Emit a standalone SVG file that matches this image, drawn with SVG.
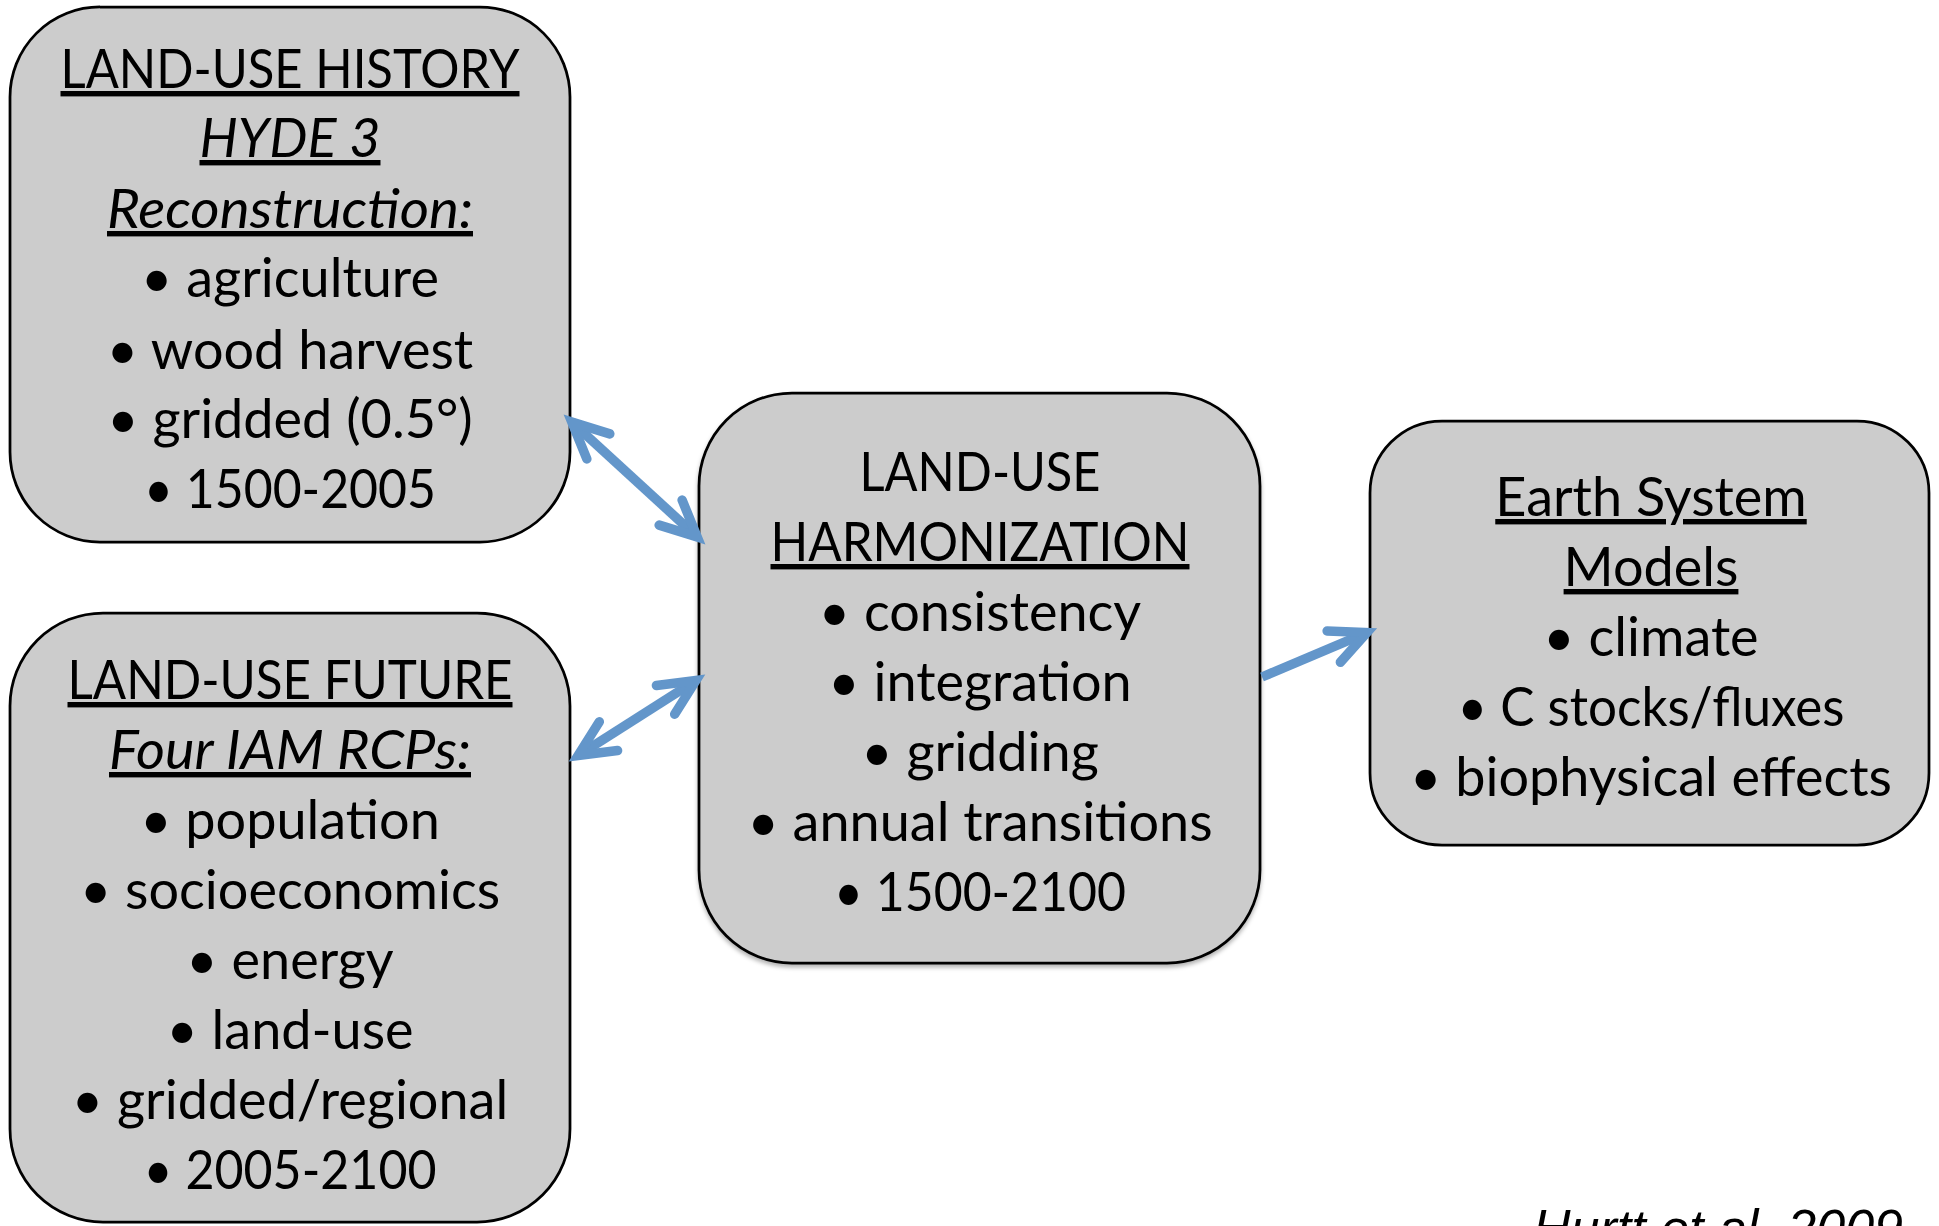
<svg xmlns="http://www.w3.org/2000/svg" width="1939" height="1226" viewBox="0 0 1939 1226">
<style>
.box{fill:#cccccc;stroke:#000;stroke-width:2.75}
text{font-family:Lato,"Liberation Sans",sans-serif;font-size:54px;fill:#000;text-anchor:middle}
.u{text-decoration:underline}
.i{font-style:italic}
.conn{stroke:#6396ca;stroke-width:9.5;fill:none}
.ref{font-family:"Liberation Sans",Arial,sans-serif;font-style:italic;font-size:52px;text-anchor:start}
</style>
<defs>
<marker id="ah" markerUnits="userSpaceOnUse" viewBox="-60 -30 70 60" markerWidth="70" markerHeight="60" refX="0" refY="0" orient="auto-start-reverse" overflow="visible">
<path d="M-36,-17 L0,0 L-36,17" fill="none" stroke="#6396ca" stroke-width="9.5" stroke-linecap="round" stroke-linejoin="miter"/>
</marker>
<filter id="sh" x="-5%" y="-5%" width="110%" height="112%">
<feGaussianBlur in="SourceAlpha" stdDeviation="2"/>
<feOffset dy="3" result="b"/>
<feFlood flood-color="#000" flood-opacity="0.3"/>
<feComposite in2="b" operator="in"/>
<feMerge><feMergeNode/><feMergeNode in="SourceGraphic"/></feMerge>
</filter>
</defs>

<g id="history">
<rect class="box" x="10" y="7" width="560" height="535" rx="90" ry="90"/>
<text x="290" y="88" class="u" textLength="459" lengthAdjust="spacingAndGlyphs">LAND-USE HISTORY</text>
<text x="290" y="157" class="u i">HYDE 3</text>
<text x="290" y="228" class="u i" textLength="366" lengthAdjust="spacingAndGlyphs">Reconstruction:</text>
<text x="290" y="297">• agriculture</text>
<text x="290" y="369">• wood harvest</text>
<text x="290" y="438">• gridded (0.5°)</text>
<text x="290" y="508" textLength="292" lengthAdjust="spacingAndGlyphs">• 1500-2005</text>
</g>

<g id="future">
<rect class="box" x="10" y="613" width="560" height="609" rx="93" ry="93"/>
<text x="290" y="699" class="u" textLength="445" lengthAdjust="spacingAndGlyphs">LAND-USE FUTURE</text>
<text x="290" y="769" class="u i" textLength="362" lengthAdjust="spacingAndGlyphs">Four IAM RCPs:</text>
<text x="290" y="839">• population</text>
<text x="290" y="909">• socioeconomics</text>
<text x="290" y="979">• energy</text>
<text x="290" y="1049">• land-use</text>
<text x="290" y="1119">• gridded/regional</text>
<text x="290" y="1189" textLength="293" lengthAdjust="spacingAndGlyphs">• 2005-2100</text>
</g>

<g id="harmonization">
<rect class="box" x="699" y="393" width="561" height="570" rx="93" ry="93" filter="url(#sh)"/>
<text x="980" y="491" textLength="241" lengthAdjust="spacingAndGlyphs">LAND-USE</text>
<text x="980" y="561" class="u" textLength="419" lengthAdjust="spacingAndGlyphs">HARMONIZATION</text>
<text x="980" y="631">• consistency</text>
<text x="980" y="701">• integration</text>
<text x="980" y="771">• gridding</text>
<text x="980" y="841">• annual transitions</text>
<text x="980" y="911" textLength="292" lengthAdjust="spacingAndGlyphs">• 1500-2100</text>
</g>

<g id="esm">
<rect class="box" x="1370" y="421" width="559" height="424" rx="72" ry="72"/>
<text x="1651" y="516" class="u">Earth System</text>
<text x="1651" y="586" class="u">Models</text>
<text x="1651" y="656">• climate</text>
<text x="1651" y="726" textLength="387" lengthAdjust="spacingAndGlyphs">• C stocks/fluxes</text>
<text x="1651" y="796">• biophysical effects</text>
</g>

<g id="connectors">
<line class="conn" x1="571.8" y1="422.1" x2="697.2" y2="536.9" marker-start="url(#ah)" marker-end="url(#ah)"/>
<line class="conn" x1="578.1" y1="755.5" x2="695.9" y2="680.5" marker-start="url(#ah)" marker-end="url(#ah)"/>
<line class="conn" x1="1262" y1="677" x2="1366.9" y2="632.6" marker-end="url(#ah)"/>
</g>

<text class="ref" x="1533" y="1246">Hurtt et al. 2009</text>
</svg>
